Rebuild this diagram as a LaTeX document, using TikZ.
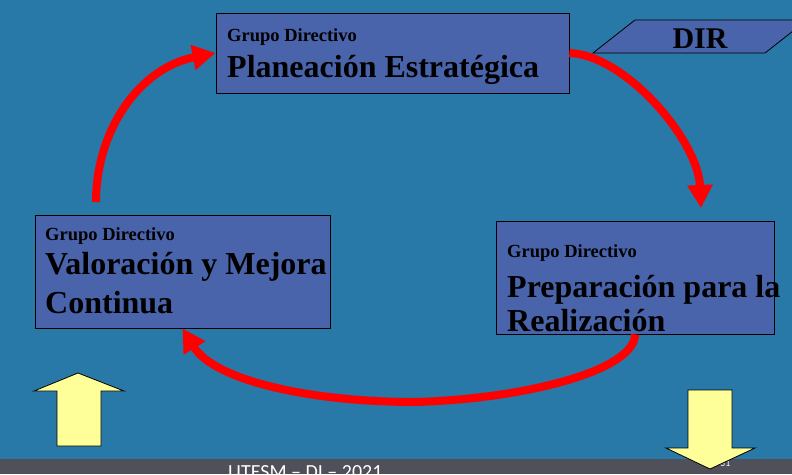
\documentclass[tikz,border=0pt]{standalone}
\usepackage{fontspec}
\setmainfont{Liberation Serif}
\newfontfamily\footfont{Carlito}
\usetikzlibrary{arrows.meta}

\definecolor{slideblue}{RGB}{40,120,168}
\definecolor{boxblue}{RGB}{74,100,172}
\definecolor{footgray}{RGB}{80,80,90}
\definecolor{pale}{RGB}{255,255,153}

\tikzset{
  stage/.style={draw=black, fill=boxblue, line width=0.8pt, inner sep=0pt},
  smalltxt/.style={anchor=base west, inner sep=0pt, font=\bfseries\fontsize{18.5}{20}\selectfont},
  bigtxt/.style={anchor=base west, inner sep=0pt, font=\bfseries\fontsize{32}{34}\selectfont},
  flow/.style={red, line width=8pt, -{Triangle[length=23pt,width=24pt]}},
  hint/.style={draw=black, fill=pale, line width=0.8pt, line join=miter}
}

\begin{document}
\begin{tikzpicture}[x=1pt, y=-1pt]
  \useasboundingbox (0,0) rectangle (792,474);
  \clip (0,0) rectangle (792,474);
  \fill[slideblue] (0,0) rectangle (792,474);
  % footer
  \fill[footgray] (0,458.5) rectangle (792,474);
  \node[white, anchor=base west, inner sep=0pt, font=\footfont\fontsize{20}{22}\selectfont] (footer) at (228,478) {UTESM – DI – 2021};
  \node[white, anchor=base west, inner sep=0pt, font=\footfont\fontsize{10}{12}\selectfont] (page) at (720,466) {31};

  % the three stages
  \node[stage, minimum width=353pt, minimum height=80pt] (plan) at (392.5,53) {};
  \node[smalltxt] (plansub) at (227,41) {Grupo Directivo};
  \node[bigtxt] (plantxt) at (227,77) {Planeación Estratégica};

  \node[stage, minimum width=278pt, minimum height=113pt] (prep) at (635,277.5) {};
  \node[smalltxt] (prepsub) at (507,257) {Grupo Directivo};
  \node[bigtxt] (preptxt) at (507,297) {Preparación para la};
  \node[bigtxt] (preptxtb) at (507,331) {Realización};

  \node[stage, minimum width=295pt, minimum height=113pt] (val) at (182.5,271.5) {};
  \node[smalltxt] (valsub) at (45,240) {Grupo Directivo};
  \node[bigtxt] (valtxt) at (45,274) {Valoración y Mejora};
  \node[bigtxt] (valtxtb) at (45,313) {Continua};

  % DIR tag
  \draw[fill=boxblue, line width=0.8pt] (593,53) -- (635,20) -- (807,20) -- (765,53) -- cycle;
  \node[anchor=base, inner sep=0pt, font=\bfseries\fontsize{30}{32}\selectfont] (dir) at (700,48) {DIR};

  % cycle arrows
  \coordinate (valtop) at (96,202);
  \coordinate (preptop) at (701,208);
  \coordinate (low) at (415,402);
  \draw[flow] (valtop) .. controls +(0,-72) and +(-76,15) .. (plan.west);
  \draw[flow] (plan.east) .. controls +(56,2) and +(-3,-68) .. (preptop);
  \draw[flow] (prep.south) .. controls +(0,36) and +(110,-3) .. (low)
    .. controls +(-105,0) and +(32,52) .. (val.south);

  % yellow arrows
  \draw[hint] (57,446) -- (57,391) -- (34,391) -- (78,373) -- (124,391) -- (101,391) -- (101,446) -- cycle;
  \draw[hint] (688,390) -- (732,390) -- (732,448) -- (755,448) -- (710,469) -- (666,448) -- (688,448) -- cycle;
\end{tikzpicture}
\end{document}
